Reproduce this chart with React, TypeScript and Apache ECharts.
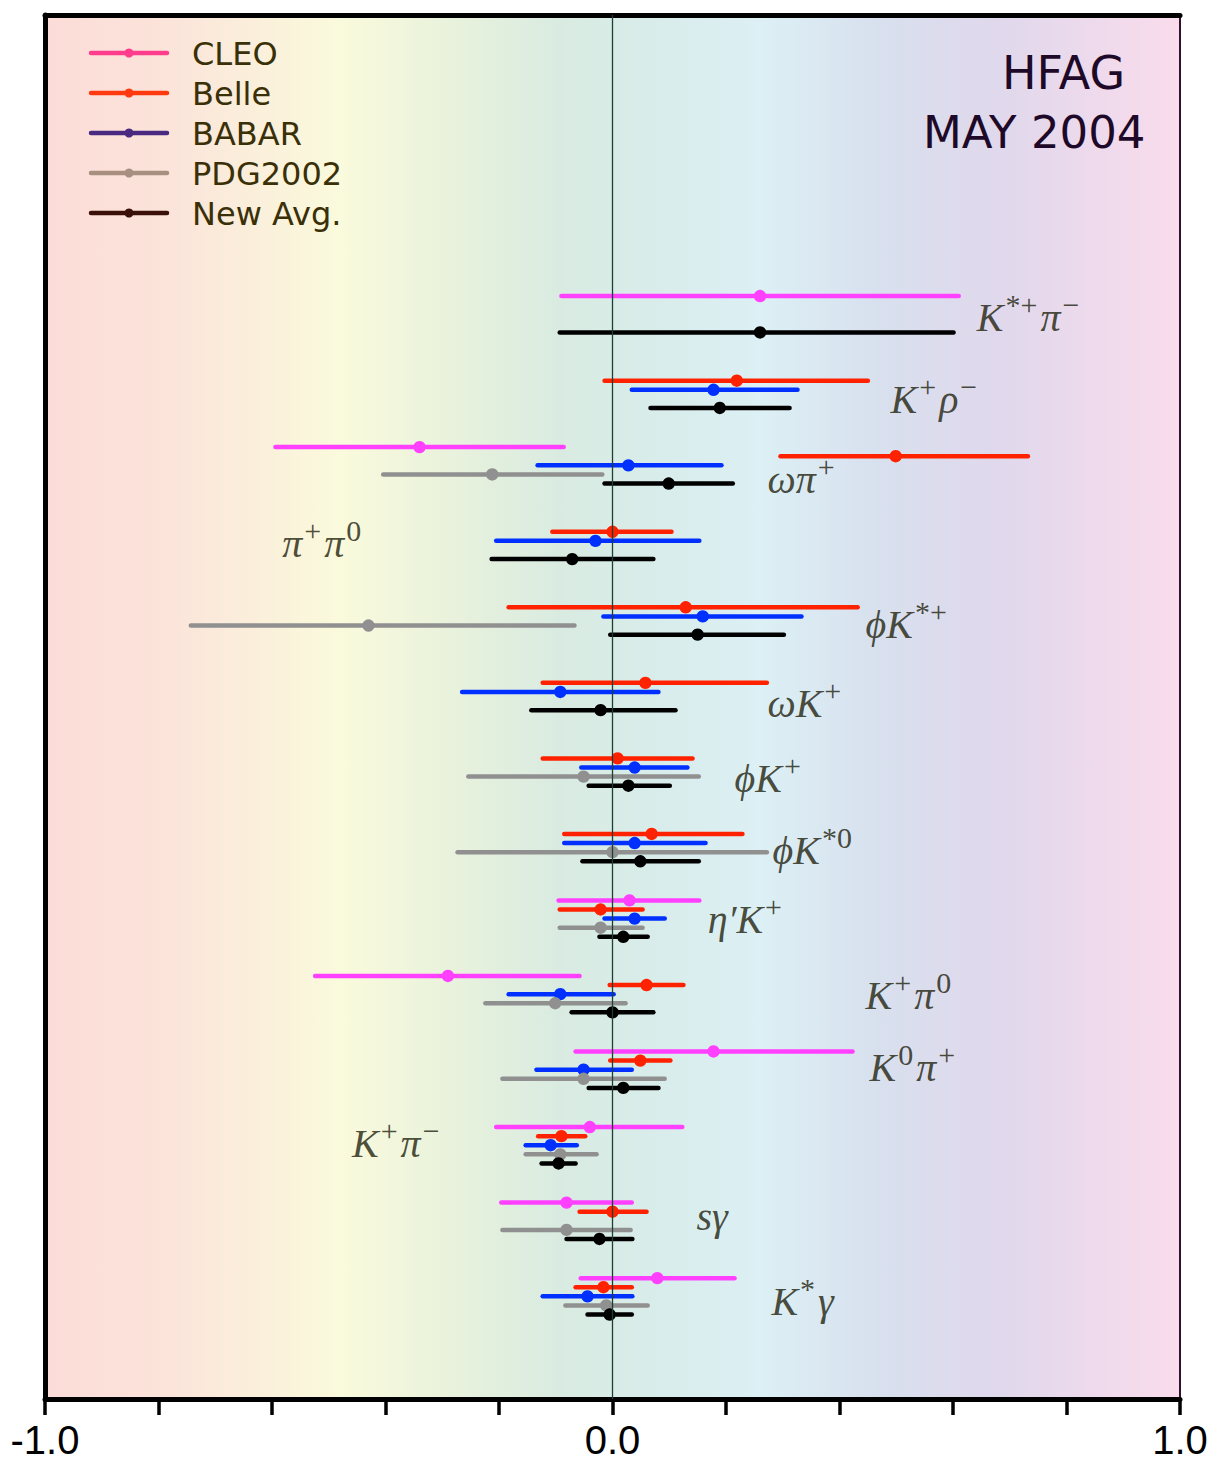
import React, { useEffect, useRef } from "react";
import * as echarts from "echarts";

// Decay modes (top to bottom)
const modes = [
  "{m|K}{s|*+}{m|π}{s|−}",
  "{m|K}{s|+}{m|ρ}{s|−}",
  "{m|ωπ}{s|+}",
  "{m|π}{s|+}{m|π}{s|0}",
  "{m|ϕK}{s|*+}",
  "{m|ωK}{s|+}",
  "{m|ϕK}{s|+}",
  "{m|ϕK}{s|*0}",
  "{m|η′K}{s|+}",
  "{m|K}{s|+}{m|π}{s|0}",
  "{m|K}{s|0}{m|π}{s|+}",
  "{m|K}{s|+}{m|π}{s|−}",
  "{m|sγ}",
  "{m|K}{s|*}{m|γ}",
];

// Label anchors [x value, offset below group start in group units]
const labelX = [0.642, 0.49, 0.273, -0.582, 0.446, 0.273, 0.215, 0.282, 0.168, 0.446, 0.453, -0.459, 0.148, 0.28];
const labelDy = [0.225, 0.32, 0.37, 0.225, 0.29, 0.34, 0.33, 0.28, 0.2, 0.2, 0.16, 0.17, 0.13, 0.26];

// [central, low edge, high edge] per mode
const cleo = [
  [0.26, -0.09, 0.61], null, [-0.34, -0.594, -0.086], null, null, null, null, null,
  [0.03, -0.095, 0.153], [-0.29, -0.524, -0.058], [0.178, -0.065, 0.423],
  [-0.04, -0.205, 0.123], [-0.081, -0.196, 0.034], [0.079, -0.056, 0.215],
];
const belle = [
  null, [0.219, -0.014, 0.45], [0.499, 0.296, 0.732], [0.0, -0.106, 0.104],
  [0.129, -0.183, 0.432], [0.058, -0.123, 0.272], [0.009, -0.123, 0.141],
  [0.069, -0.085, 0.229], [-0.021, -0.093, 0.053], [0.06, -0.005, 0.125],
  [0.049, -0.004, 0.102], [-0.09, -0.131, -0.048], [0.0, -0.058, 0.06],
  [-0.016, -0.065, 0.034],
];
const babar = [
  null, [0.178, 0.034, 0.326], [0.028, -0.132, 0.192], [-0.03, -0.205, 0.153],
  [0.159, -0.016, 0.333], [-0.092, -0.265, 0.081], [0.039, -0.055, 0.132],
  [0.039, -0.085, 0.164], [0.039, -0.014, 0.092], [-0.092, -0.183, 0.002],
  [-0.051, -0.134, 0.034], [-0.109, -0.153, -0.063], null, [-0.044, -0.123, 0.035],
];
const pdg = [
  null, null, [-0.212, -0.404, -0.018], null, [-0.43, -0.743, -0.067], null,
  [-0.051, -0.254, 0.152], [0.0, -0.273, 0.272], [-0.021, -0.093, 0.053],
  [-0.101, -0.224, 0.023], [-0.051, -0.194, 0.092], [-0.092, -0.153, -0.028],
  [-0.081, -0.194, 0.032], [-0.011, -0.083, 0.062],
];
const avg = [
  [0.26, -0.093, 0.601], [0.189, 0.067, 0.312], [0.099, -0.014, 0.212],
  [-0.071, -0.213, 0.072], [0.15, -0.004, 0.302], [-0.021, -0.143, 0.111],
  [0.028, -0.042, 0.101], [0.049, -0.053, 0.152], [0.019, -0.023, 0.062],
  [0.0, -0.072, 0.072], [0.019, -0.042, 0.081], [-0.095, -0.125, -0.065],
  [-0.023, -0.081, 0.035], [-0.005, -0.044, 0.034],
];

const experiments = [
  { name: "CLEO", data: cleo, color: "#ff40ff", legend: "#ff3d8c" },
  { name: "Belle", data: belle, color: "#ff2200", legend: "#ff3a10" },
  { name: "BABAR", data: babar, color: "#0030ff", legend: "#4a2a80" },
  { name: "PDG2002", data: pdg, color: "#909090", legend: "#a89080" },
  { name: "New Avg.", data: avg, color: "#000000", legend: "#3a1008" },
];

const tickLabels: Record<string, string> = { "-1": "-1.0", "0": "0.0", "1": "1.0" };

const SLOT = 0.1205;

export default function App() {
  const ref = useRef<HTMLDivElement>(null);
  useEffect(() => {
    if (!ref.current) return;
    const chart = echarts.init(ref.current, null, { renderer: "svg" });

    const errSeries = experiments.map((ex, ei) => ({
      type: "custom",
      name: ex.name,
      xAxisIndex: 0,
      yAxisIndex: 0,
      data: ex.data
        .map((d, gi) => (d ? [d[0], d[1], d[2], gi + ei * SLOT] : null))
        .filter((d) => d !== null),
      renderItem: (params: any, api: any) => {
        const c = api.coord([api.value(0), api.value(3)]);
        const a = api.coord([api.value(1), api.value(3)]);
        const b = api.coord([api.value(2), api.value(3)]);
        return {
          type: "group",
          children: [
            {
              type: "line",
              shape: { x1: a[0], y1: a[1], x2: b[0], y2: b[1] },
              style: { stroke: ex.color, lineWidth: 4.5, lineCap: "round" },
            },
            {
              type: "circle",
              shape: { cx: c[0], cy: c[1], r: 6.2 },
              style: { fill: ex.color },
            },
          ],
        };
      },
      silent: true,
      z: 3,
    }));

    const labelSeries = {
      type: "scatter",
      symbolSize: 0,
      data: modes.map((m, i) => [labelX[i], i + labelDy[i]]),
      label: {
        show: true,
        position: "right",
        distance: 0,
        formatter: (p: any) => modes[p.dataIndex],
        rich: {
          m: {
            fontFamily: "Liberation Serif",
            fontStyle: "italic",
            fontSize: 40,
            color: "#20200c",
            lineHeight: 48,
            verticalAlign: "bottom",
          },
          s: {
            fontFamily: "Liberation Serif",
            fontSize: 30,
            color: "#20200c",
            lineHeight: 30,
            verticalAlign: "top",
            padding: [0, 3, 0, 2],
          },
        },
      },
      silent: true,
      z: 4,
    };

    const zeroLine = {
      type: "line",
      data: [],
      markLine: {
        silent: true,
        symbol: "none",
        label: { show: false },
        lineStyle: { color: "#1e4032", width: 1.3, type: "solid" },
        data: [{ xAxis: 0 }],
      },
      z: 2,
    };

    const legendGraphics: any[] = [];
    experiments.forEach((ex, i) => {
      const y = 53 + i * 40;
      legendGraphics.push(
        {
          type: "line",
          shape: { x1: 91, y1: y, x2: 167, y2: y },
          style: { stroke: ex.legend, lineWidth: 4.5, lineCap: "round" },
          z: 10,
        },
        {
          type: "circle",
          shape: { cx: 129, cy: y, r: 4.5 },
          style: { fill: ex.legend },
          z: 10,
        },
        {
          type: "text",
          x: 192,
          y: y + 1,
          style: {
            text: ex.name,
            fill: "#3a3008",
            fontFamily: "DejaVu Sans",
            fontSize: 32,
            verticalAlign: "middle",
          },
          z: 10,
        }
      );
    });

    const option = {
      animation: false,
      grid: {
        left: 45,
        right: 40,
        top: 15,
        bottom: 64,
        outerBoundsMode: "none",
        containLabel: false,
        show: true,
        borderWidth: 0,
        backgroundColor: new echarts.graphic.LinearGradient(0, 0, 1, 0, [
          { offset: 0, color: "#fcdcd8" },
          { offset: 0.11, color: "#fbe4da" },
          { offset: 0.26, color: "#fafadc" },
          { offset: 0.357, color: "#e9f2dc" },
          { offset: 0.454, color: "#d9ebe1" },
          { offset: 0.533, color: "#d8ecea" },
          { offset: 0.63, color: "#dcf0f5" },
          { offset: 0.735, color: "#d8e0ee" },
          { offset: 0.84, color: "#e0d8ec" },
          { offset: 1, color: "#fadcec" },
        ]),
      },
      xAxis: [
        {
          type: "value",
          min: -1,
          max: 1,
          interval: 0.2,
          position: "bottom",
          axisLine: { show: true, onZero: false, lineStyle: { color: "#000", width: 5 } },
          axisTick: { show: true, inside: false, length: 16, lineStyle: { color: "#000", width: 3.5 } },
          splitLine: { show: false },
          axisLabel: {
            show: true,
            margin: 26,
            fontFamily: "Liberation Sans",
            fontSize: 40,
            lineHeight: 30,
            color: "#000",
            showMinLabel: true,
            showMaxLabel: true,
            formatter: (v: number) => {
              const k = String(Math.round(v * 10) / 10);
              return tickLabels[k] ?? "";
            },
          },
        },
        {
          type: "value",
          min: -1,
          max: 1,
          position: "top",
          axisLine: { show: true, onZero: false, lineStyle: { color: "#000", width: 5 } },
          axisTick: { show: false },
          axisLabel: { show: false },
          splitLine: { show: false },
        },
      ],
      yAxis: [
        {
          type: "value",
          inverse: true,
          min: -3.72,
          max: 14.6,
          position: "left",
          axisLine: { show: true, onZero: false, lineStyle: { color: "#000", width: 5 } },
          axisTick: { show: false },
          axisLabel: { show: false },
          splitLine: { show: false },
        },
        {
          type: "value",
          inverse: true,
          min: -3.72,
          max: 14.6,
          position: "right",
          axisLine: { show: true, onZero: false, lineStyle: { color: "#301030", width: 2 } },
          axisTick: { show: false },
          axisLabel: { show: false },
          splitLine: { show: false },
        },
      ],
      graphic: [
        ...legendGraphics,
        {
          type: "text",
          x: 1002,
          y: 73,
          style: {
            text: "HFAG",
            fill: "#1e0a28",
            fontFamily: "DejaVu Sans",
            fontSize: 46,
            verticalAlign: "middle",
          },
          z: 10,
        },
        {
          type: "text",
          x: 923,
          y: 132,
          style: {
            text: "MAY 2004",
            fill: "#1e0a28",
            fontFamily: "DejaVu Sans",
            fontSize: 45,
            verticalAlign: "middle",
          },
          z: 10,
        },
      ],
      series: [zeroLine, ...errSeries, labelSeries],
    };

    chart.setOption(option as any);
    return () => chart.dispose();
  }, []);

  return (
    <div
      ref={ref}
      style={{ position: "absolute", left: 0, top: 0, width: 1220, height: 1463 }}
    />
  );
}
